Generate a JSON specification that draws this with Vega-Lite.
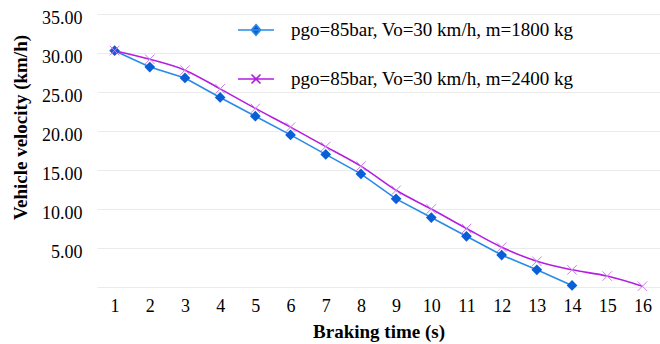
{
  "$schema": "https://vega.github.io/schema/vega-lite/v6.json",
  "autosize": {"type": "none"},
  "width": 563,
  "height": 273,
  "padding": {"left": 97, "top": 14, "right": 0, "bottom": 57},
  "background": "white",
  "config": {
    "view": {"stroke": null},
    "font": "Liberation Serif",
    "axis": {
      "labelFont": "Liberation Serif",
      "titleFont": "Liberation Serif",
      "labelColor": "#000000",
      "titleColor": "#000000",
      "domain": false,
      "ticks": false,
      "gridColor": "#ebebeb",
      "gridWidth": 1
    }
  },
  "data": {
    "values": [
      {"t": 1, "v": 30.3, "s": "pgo=85bar, Vo=30 km/h, m=1800 kg"},
      {"t": 2, "v": 28.2, "s": "pgo=85bar, Vo=30 km/h, m=1800 kg"},
      {"t": 3, "v": 26.8, "s": "pgo=85bar, Vo=30 km/h, m=1800 kg"},
      {"t": 4, "v": 24.3, "s": "pgo=85bar, Vo=30 km/h, m=1800 kg"},
      {"t": 5, "v": 21.9, "s": "pgo=85bar, Vo=30 km/h, m=1800 kg"},
      {"t": 6, "v": 19.5, "s": "pgo=85bar, Vo=30 km/h, m=1800 kg"},
      {"t": 7, "v": 17.0, "s": "pgo=85bar, Vo=30 km/h, m=1800 kg"},
      {"t": 8, "v": 14.5, "s": "pgo=85bar, Vo=30 km/h, m=1800 kg"},
      {"t": 9, "v": 11.3, "s": "pgo=85bar, Vo=30 km/h, m=1800 kg"},
      {"t": 10, "v": 8.9, "s": "pgo=85bar, Vo=30 km/h, m=1800 kg"},
      {"t": 11, "v": 6.5, "s": "pgo=85bar, Vo=30 km/h, m=1800 kg"},
      {"t": 12, "v": 4.1, "s": "pgo=85bar, Vo=30 km/h, m=1800 kg"},
      {"t": 13, "v": 2.2, "s": "pgo=85bar, Vo=30 km/h, m=1800 kg"},
      {"t": 14, "v": 0.2, "s": "pgo=85bar, Vo=30 km/h, m=1800 kg"},
      {"t": 1, "v": 30.3, "s": "pgo=85bar, Vo=30 km/h, m=2400 kg"},
      {"t": 2, "v": 29.2, "s": "pgo=85bar, Vo=30 km/h, m=2400 kg"},
      {"t": 3, "v": 27.8, "s": "pgo=85bar, Vo=30 km/h, m=2400 kg"},
      {"t": 4, "v": 25.4, "s": "pgo=85bar, Vo=30 km/h, m=2400 kg"},
      {"t": 5, "v": 22.9, "s": "pgo=85bar, Vo=30 km/h, m=2400 kg"},
      {"t": 6, "v": 20.5, "s": "pgo=85bar, Vo=30 km/h, m=2400 kg"},
      {"t": 7, "v": 18.0, "s": "pgo=85bar, Vo=30 km/h, m=2400 kg"},
      {"t": 8, "v": 15.5, "s": "pgo=85bar, Vo=30 km/h, m=2400 kg"},
      {"t": 9, "v": 12.4, "s": "pgo=85bar, Vo=30 km/h, m=2400 kg"},
      {"t": 10, "v": 10.0, "s": "pgo=85bar, Vo=30 km/h, m=2400 kg"},
      {"t": 11, "v": 7.5, "s": "pgo=85bar, Vo=30 km/h, m=2400 kg"},
      {"t": 12, "v": 5.1, "s": "pgo=85bar, Vo=30 km/h, m=2400 kg"},
      {"t": 13, "v": 3.3, "s": "pgo=85bar, Vo=30 km/h, m=2400 kg"},
      {"t": 14, "v": 2.2, "s": "pgo=85bar, Vo=30 km/h, m=2400 kg"},
      {"t": 15, "v": 1.4, "s": "pgo=85bar, Vo=30 km/h, m=2400 kg"},
      {"t": 16, "v": 0.1, "s": "pgo=85bar, Vo=30 km/h, m=2400 kg"}
    ]
  },
  "encoding": {
    "x": {
      "field": "t",
      "type": "quantitative",
      "scale": {"domain": [0.5, 16.5], "nice": false, "zero": false},
      "axis": {
        "title": "Braking time (s)",
        "values": [1, 2, 3, 4, 5, 6, 7, 8, 9, 10, 11, 12, 13, 14, 15, 16],
        "grid": false,
        "labelFontSize": 18,
        "labelPadding": 10,
        "labelFlush": false,
        "titleFontSize": 19,
        "titleFontWeight": "bold",
        "titleBaseline": "alphabetic",
        "titleY": 50
      }
    },
    "y": {
      "field": "v",
      "type": "quantitative",
      "scale": {"domain": [0, 35], "nice": false},
      "axis": {
        "title": "Vehicle velocity (km/h)",
        "values": [0, 5, 10, 15, 20, 25, 30, 35],
        "labelExpr": "datum.value == 0 ? '' : format(datum.value, '.2f')",
        "labelFontSize": 18,
        "labelPadding": 15,
        "labelOffset": 4,
        "labelBaseline": "middle",
        "labelFlush": false,
        "titleFontSize": 19,
        "titleFontWeight": "bold",
        "titleBaseline": "alphabetic",
        "titleAlign": "center",
        "titleAngle": -90,
        "titleX": -71,
        "titleY": 113
      }
    }
  },
  "layer": [
    {
      "transform": [{"filter": "indexof(datum.s, '1800') >= 0"}],
      "mark": {"type": "line", "strokeWidth": 1.6, "interpolate": "linear"},
      "encoding": {
        "color": {
          "field": "s",
          "type": "nominal",
          "scale": {
            "domain": ["pgo=85bar, Vo=30 km/h, m=1800 kg", "pgo=85bar, Vo=30 km/h, m=2400 kg"],
            "range": ["#2a8ae8", "#b41ee0"]
          },
          "legend": {
            "title": null,
            "orient": "none",
            "legendX": 140,
            "legendY": -3,
            "padding": 0,
            "symbolSize": 1296,
            "symbolStrokeWidth": 1.6,
            "rowPadding": 20,
            "labelOffset": 16,
            "labelFont": "Liberation Serif",
            "labelFontSize": 19,
            "labelColor": "#000000",
            "labelLimit": 400,
            "encode": {
              "symbols": {
                "update": {
                  "shape": {"signal": "indexof(datum.value, '1800') >= 0 ? 'M-1,0H1M0,-0.3L0.26,0L0,0.3L-0.26,0Z' : 'M-1,0H1M-0.25,-0.25L0.25,0.25M-0.25,0.25L0.25,-0.25'"},
                  "fill": {"signal": "indexof(datum.value, '1800') >= 0 ? '#0a5fd6' : 'transparent'"},
                  "opacity": {"value": 1}
                }
              }
            }
          }
        }
      }
    },
    {
      "transform": [{"filter": "indexof(datum.s, '2400') >= 0"}],
      "mark": {"type": "line", "strokeWidth": 1.6, "interpolate": "monotone"},
      "encoding": {
        "color": {"field": "s", "type": "nominal"}
      }
    },
    {
      "transform": [{"filter": "indexof(datum.s, '1800') >= 0"}],
      "mark": {"type": "point", "shape": "diamond", "filled": true, "size": 115, "color": "#0a5fd6", "opacity": 1}
    },
    {
      "transform": [{"filter": "indexof(datum.s, '2400') >= 0"}],
      "mark": {"type": "point", "shape": "M-1,-1L1,1M-1,1L1,-1", "filled": false, "size": 90, "color": "#cc80ee", "strokeWidth": 1, "opacity": 1}
    }
  ]
}
